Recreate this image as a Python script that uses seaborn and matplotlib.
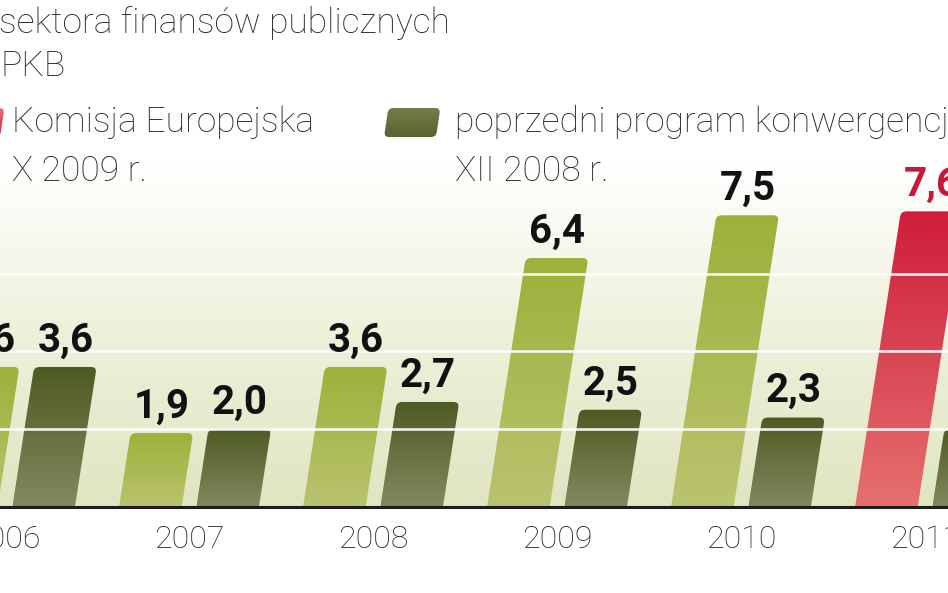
import numpy as np
import pandas as pd
import matplotlib
matplotlib.use("Agg")
import matplotlib.pyplot as plt
import seaborn as sns
from matplotlib.patches import FancyBboxPatch
from matplotlib.transforms import Affine2D
from matplotlib.colors import LinearSegmentedColormap

# ---------------- data ----------------
years = ["2006", "2007", "2008", "2009", "2010", "2011"]
nowy = [3.6, 1.9, 3.6, 6.4, 7.5]          # light green series (2006-2010)
komisja_2011 = 7.6                          # Komisja Europejska, X 2009 r. (red)
poprzedni = [3.6, 2.0, 2.7, 2.5, 2.3, 2.0]  # poprzedni program konwergencji, XII 2008 r.

title_lines = ["sektora finansów publicznych", "PKB"]
legend_red = ["Komisja Europejska", "X 2009 r."]
legend_dark = ["poprzedni program konwergencji", "XII 2008 r."]

# ---------------- styling ----------------
W, H = 948, 593
BASE_PX = 507          # baseline from top (px)
PX_Y = 38.9            # px per data unit (y)
PITCH = 184.0          # px per category
X1_PX = 189.0          # px of category index 1 centre
SLANT = 0.155          # px shift right per px of height

LIGHT_TOP, LIGHT_BOT = "#9db13a", "#bac36f"
DARK_TOP, DARK_BOT = "#4e5a23", "#838960"
RED_TOP, RED_BOT = "#cf1d3b", "#e5716f"
TXT = "#2b2b2b"
FONT_TXT = ["Roboto", "DejaVu Sans"]

sns.set_theme(style="white")
plt.rcParams["font.family"] = FONT_TXT

fig = plt.figure(figsize=(W / 100, H / 100), dpi=100)
fig.patch.set_facecolor("white")
ax = fig.add_axes([0, (H - BASE_PX) / H, 1, BASE_PX / H])
ax.set_facecolor("white")

primary = nowy + [komisja_2011]
df = pd.DataFrame({
    "rok": years * 2,
    "wartosc": primary + poprzedni,
    "seria": ["nowy"] * len(years) + ["poprzedni"] * len(years),
})
sns.barplot(data=df, x="rok", y="wartosc", hue="seria",
            palette={"nowy": LIGHT_TOP, "poprzedni": DARK_TOP},
            width=0.84, gap=0.19, saturation=1, legend=False, ax=ax, zorder=2)

xl = 1 - X1_PX / PITCH
xr = xl + W / PITCH
ytop = BASE_PX / PX_Y
ax.set_xlim(xl, xr)
ax.set_ylim(0, ytop)

# background gradient
bg_cmap = LinearSegmentedColormap.from_list("bg", ["#e1e5c1", "#eef0da", "#ffffff"])
bg = np.linspace(0, 1, 256).reshape(-1, 1)
ax.imshow(bg, extent=(xl, xr, 0, 8.8), origin="lower", aspect="auto",
          cmap=bg_cmap, zorder=0, interpolation="bilinear")

k = SLANT * PX_Y / PITCH
skew = Affine2D().skew(np.arctan(k), 0) + ax.transData
r = 5.5 / PITCH
asp = PITCH / PX_Y

grad = np.linspace(0, 1, 256).reshape(-1, 1)
patches = list(ax.patches)
n = len(years)
for i, p in enumerate(patches):
    x, w, h = p.get_x(), p.get_width(), p.get_height()
    p.set_visible(False)
    series = 0 if i < n else 1
    idx = i % n
    if series == 0 and idx == n - 1:
        top, bot, lab_col = RED_TOP, RED_BOT, "#c8173a"
    elif series == 0:
        top, bot, lab_col = LIGHT_TOP, LIGHT_BOT, "#111111"
    else:
        top, bot, lab_col = DARK_TOP, DARK_BOT, "#111111"
    fb = FancyBboxPatch((x, -0.6), w, h + 0.6,
                        boxstyle=f"round,pad=0,rounding_size={r}",
                        mutation_aspect=asp, transform=skew,
                        facecolor="none", edgecolor="none", zorder=2)
    ax.add_patch(fb)
    cm = LinearSegmentedColormap.from_list("g", [bot, top])
    im = ax.imshow(grad, extent=(x - 0.05, x + w + k * h + 0.05, 0, h),
                   origin="lower", aspect="auto", cmap=cm, zorder=2,
                   interpolation="bilinear")
    im.set_clip_path(fb)
    xc = x + w / 2 + k * h
    ax.annotate(f"{h:.1f}".replace(".", ","), (xc, h), xytext=(0, 11),
                textcoords="offset points", ha="center", va="baseline",
                fontsize=29, fontweight="bold", color=lab_col,
                family=["Roboto", "DejaVu Sans"], annotation_clip=False,
                zorder=6)

ax.set_xlim(xl, xr)
ax.set_ylim(0, ytop)

for g in (2, 4, 6):
    ax.axhline(g, color="white", lw=1.9, alpha=0.9, zorder=3)
ax.axhline(0, color="#1c1c1c", lw=2.2, zorder=4, clip_on=False)

for s in ax.spines.values():
    s.set_visible(False)
ax.set_yticks([])
ax.set_xlabel("")
ax.set_ylabel("")
ax.set_xticks(range(n))
ax.set_xticklabels(years, fontsize=23, color="#222222", fontweight="light")
ax.tick_params(axis="x", length=0, pad=13)

# ------------- header texts & legend (pixel coords from top-left) -------------
pix = Affine2D().scale(1 / W, -1 / H).translate(0, 1) + fig.transFigure

def ptext(x, y, s, **kw):
    fig.text(x, y, s, transform=pix, va="baseline", ha="left",
             fontsize=25.5, color=TXT, fontweight="light", **kw)

ptext(-1, 33, title_lines[0])
ptext(0, 76, title_lines[1])
ptext(12, 132, legend_red[0])
ptext(12, 181, legend_red[1])
ptext(455, 132, legend_dark[0])
ptext(455, 181, legend_dark[1])

# overlay axes for legend swatches (pixel coordinates, y downward)
axs = fig.add_axes([0, 0, 1, 1], zorder=5)
axs.set_axis_off()
axs.patch.set_alpha(0)
axs.set_xlim(0, W)
axs.set_ylim(H, 0)

def swatch(x0, y0, w, h, top, bot):
    sk = (Affine2D().translate(0, -(y0 + h)).skew(np.arctan(-0.15), 0)
          .translate(0, y0 + h) + axs.transData)
    fb = FancyBboxPatch((x0, y0), w, h, boxstyle="round,pad=0,rounding_size=5",
                        transform=sk, facecolor="none", edgecolor="none")
    axs.add_patch(fb)
    cm = LinearSegmentedColormap.from_list("s", [top, bot])
    im = axs.imshow(grad, extent=(x0 - 10, x0 + w + 10, y0 + h, y0), origin="lower",
                    aspect="auto", cmap=cm, interpolation="bilinear")
    im.set_clip_path(fb)

swatch(-53, 108, 53, 29, RED_TOP, RED_BOT)
swatch(384, 108, 52, 29, "#586430", "#737d4a")
axs.set_xlim(0, W)
axs.set_ylim(H, 0)

fig.savefig("out.png", dpi=100, facecolor="white")
